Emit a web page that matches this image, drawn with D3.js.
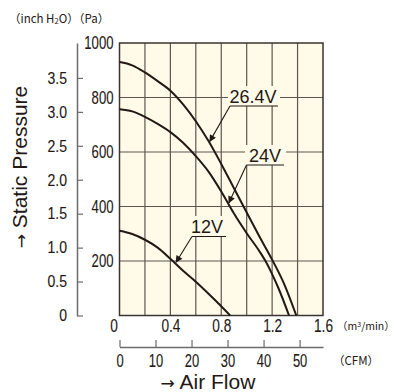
<!DOCTYPE html>
<html><head><meta charset="utf-8">
<script src="https://cdn.jsdelivr.net/npm/d3@7"></script>
<style>
html,body{margin:0;padding:0;background:#fff;}
svg{display:block;}
</style></head>
<body>
<svg id="chart" width="394" height="392"></svg>
<script>
// ---- data (flow in m³/min, static pressure in Pa) ----
const flow264 = [0, 0.1, 0.2, 0.3, 0.4, 0.5, 0.6, 0.7, 0.8, 0.9, 1.0, 1.1, 1.2, 1.3, 1.39];
const pres264 = [930, 918, 892, 860, 825, 775, 713, 640, 556, 467, 378, 290, 205, 110, 0];
const flow24 = [0, 0.1, 0.2, 0.3, 0.4, 0.5, 0.6, 0.7, 0.8, 0.9, 1.0, 1.1, 1.15, 1.2, 1.25, 1.333];
const pres24 = [757, 749, 729, 703, 673, 634, 585, 528, 455, 374, 302, 236, 198, 152, 100, 0];
const flow12 = [0, 0.1, 0.2, 0.3, 0.4, 0.5, 0.6, 0.7, 0.8, 0.87];
const pres12 = [311, 299, 278, 249, 208, 164, 124, 80, 34, 0];
const seriesNames = ["26.4V", "24V", "12V"];

const paTicks = [200, 400, 600, 800, 1000];
const paTickLabels = ["200", "400", "600", "800", "1000"];
const inchTicks = [0, 0.5, 1.0, 1.5, 2.0, 2.5, 3.0, 3.5];
const inchTickLabels = ["0", "0.5", "1.0", "1.5", "2.0", "2.5", "3.0", "3.5"];
const m3Ticks = [0, 0.4, 0.8, 1.2, 1.6];
const m3TickLabels = ["0", "0.4", "0.8", "1.2", "1.6"];
const cfmTicks = [0, 10, 20, 30, 40, 50];
const cfmTickLabels = ["0", "10", "20", "30", "40", "50"];
const gridFlow = [0.2, 0.4, 0.6, 0.8, 1.0, 1.2, 1.4];
const gridPa = [200, 400, 600, 800];

const PA_PER_INCH = 249.09;
const CFM_PER_M3 = 35.3147;

// ---- layout ----
const L = 119.5, R = 323, T = 43, B = 315.5;
const ink = "#231815";
const sans = '"Liberation Sans", Arial, sans-serif';

const svg = d3.select("#chart");
const x = d3.scaleLinear().domain([0, 1.6]).range([L, R]);
const y = d3.scaleLinear().domain([0, 1000]).range([B, T]);
const yIn = d3.scaleLinear().domain([0, 1000 / PA_PER_INCH]).range([B, T]);
const xCfm = d3.scaleLinear().domain([0, 1.6 * CFM_PER_M3]).range([L, R]);

// condensed numerals via textLength
function condense(sel, digitW, size) {
  sel.attr("font-family", sans).attr("font-size", size).attr("fill", ink)
    .attr("stroke", ink).attr("stroke-width", 0.12)
    .each(function () {
      const s = this.textContent;
      let w = 0;
      for (const c of s) w += (c === ".") ? digitW * 0.5 : digitW;
      this.setAttribute("textLength", w);
      this.setAttribute("lengthAdjust", "spacingAndGlyphs");
    });
}

// plot background
svg.append("rect").attr("x", L).attr("y", T).attr("width", R - L).attr("height", B - T)
  .attr("fill", "#fffbe8");

// grid
const grid = svg.append("g").attr("stroke", "#5e5550").attr("stroke-width", 1.2);
grid.selectAll("line.v").data(gridFlow).join("line").attr("class", "v")
  .attr("x1", d => x(d)).attr("x2", d => x(d)).attr("y1", T).attr("y2", B);
grid.selectAll("line.h").data(gridPa).join("line").attr("class", "h")
  .attr("x1", L).attr("x2", R).attr("y1", d => y(d)).attr("y2", d => y(d));
svg.append("rect").attr("x", L).attr("y", T).attr("width", R - L).attr("height", B - T)
  .attr("fill", "none").attr("stroke", "#3a3330").attr("stroke-width", 1.5);

// curves
const line = d3.line().x(d => x(d[0])).y(d => y(d[1])).curve(d3.curveMonotoneX);
const series = [
  {name: seriesNames[0], q: flow264, p: pres264},
  {name: seriesNames[1], q: flow24, p: pres24},
  {name: seriesNames[2], q: flow12, p: pres12}
];
svg.append("g").selectAll("path").data(series).join("path")
  .attr("d", s => line(s.q.map((q, i) => [q, s.p[i]])))
  .attr("fill", "none").attr("stroke", ink).attr("stroke-width", 2);

// annotations
function interp(s, q) {
  for (let i = 1; i < s.q.length; i++) {
    if (q <= s.q[i]) {
      const t = (q - s.q[i - 1]) / (s.q[i] - s.q[i - 1]);
      return s.p[i - 1] + t * (s.p[i] - s.p[i - 1]);
    }
  }
  return 0;
}
const notes = [
  {s: series[0], qTip: 0.71, cx: 253, cy: 97, ul: [230, 278], uy: 106, bg: [228, 86, 52, 20]},
  {s: series[1], qTip: 0.86, cx: 265, cy: 156, ul: [246.5, 284], uy: 165, bg: [245, 145, 41, 20]},
  {s: series[2], qTip: 0.445, cx: 207, cy: 227, ul: [192, 226], uy: 236.5, bg: [190, 216, 38, 20]}
];
svg.append("defs").append("marker").attr("id", "ah").attr("viewBox", "0 0 10 10")
  .attr("refX", 9).attr("refY", 5).attr("markerWidth", 9).attr("markerHeight", 7)
  .attr("markerUnits", "userSpaceOnUse").attr("orient", "auto")
  .append("path").attr("d", "M0,0 L10,5 L0,10 z").attr("fill", ink);
const ng = svg.append("g");
notes.forEach(n => {
  ng.append("rect").attr("x", n.bg[0]).attr("y", n.bg[1]).attr("width", n.bg[2]).attr("height", n.bg[3])
    .attr("fill", "#fffbe8");
  ng.append("text").attr("x", n.cx).attr("y", n.cy).attr("dy", "0.36em")
    .attr("text-anchor", "middle").attr("font-family", sans).attr("font-size", 18)
    .attr("fill", ink).text(n.s.name);
  ng.append("line").attr("x1", n.ul[0]).attr("x2", n.ul[1]).attr("y1", n.uy).attr("y2", n.uy)
    .attr("stroke", ink).attr("stroke-width", 1.2);
  const tx = x(n.qTip), ty = y(interp(n.s, n.qTip)) - 2;
  ng.append("line").attr("x1", n.ul[0]).attr("y1", n.uy).attr("x2", tx).attr("y2", ty)
    .attr("stroke", ink).attr("stroke-width", 1.1).attr("marker-end", "url(#ah)");
});

// Pa axis (left of plot)
const paAxis = svg.append("g").attr("transform", `translate(${L},0)`)
  .call(d3.axisLeft(y).tickValues(paTicks).tickFormat((d, i) => paTickLabels[i]).tickSize(0).tickPadding(6));
paAxis.select(".domain").remove();
condense(paAxis.selectAll("text"), 7.3, 18.5);

// inch H2O axis
const inAxis = svg.append("g").attr("transform", "translate(77,0)")
  .call(d3.axisLeft(yIn).tickValues(inchTicks).tickFormat((d, i) => inchTickLabels[i])
    .tickSizeInner(-6).tickSizeOuter(0).tickPadding(10));
inAxis.select(".domain").attr("stroke", "#6b6b6b").attr("stroke-width", 1.5);
inAxis.selectAll(".tick line").attr("stroke", "#6b6b6b").attr("stroke-width", 1.2);
condense(inAxis.selectAll("text"), 7.8, 16.5);

// m3/min axis labels
const m3Axis = svg.append("g").attr("transform", `translate(0,${B})`)
  .call(d3.axisBottom(x).tickValues(m3Ticks).tickFormat((d, i) => m3TickLabels[i]).tickSize(0).tickPadding(4));
m3Axis.select(".domain").remove();
condense(m3Axis.selectAll("text"), 7.6, 18);
m3Axis.selectAll("text").attr("dx", d => d === 0 ? -6 : 0);

// CFM axis
const cfmAxis = svg.append("g").attr("transform", "translate(0,347)")
  .call(d3.axisBottom(xCfm).tickValues(cfmTicks).tickFormat((d, i) => cfmTickLabels[i])
    .tickSizeInner(-7).tickSizeOuter(0).tickPadding(7));
cfmAxis.select(".domain").attr("stroke", "#6b6b6b").attr("stroke-width", 1.5);
cfmAxis.selectAll(".tick line").attr("stroke", "#6b6b6b").attr("stroke-width", 1.2);
condense(cfmAxis.selectAll("text"), 7.2, 18);

// unit labels
const unitFont = '"Noto Sans CJK JP", "Noto Sans", sans-serif';
const u1 = svg.append("text").attr("x", 9).attr("y", 23).attr("font-family", unitFont)
  .attr("font-size", 11.5).attr("fill", ink);
u1.append("tspan").text("（inch H");
u1.append("tspan").attr("font-size", 7.5).attr("dy", 1).text("2");
u1.append("tspan").attr("dy", -1).text("O）（Pa）");
const u2 = svg.append("text").attr("x", 337).attr("y", 330).attr("font-family", unitFont)
  .attr("font-size", 10.5).attr("fill", ink);
u2.append("tspan").text("（m");
u2.append("tspan").attr("font-size", 7).attr("dy", -3).text("3");
u2.append("tspan").attr("dy", 3).text("/min）");
svg.append("text").attr("x", 333).attr("y", 365).attr("font-family", unitFont)
  .attr("font-size", 11.5).attr("fill", ink).text("（CFM）");

// axis titles
const arrowFont = '"DejaVu Sans", sans-serif';
const t1 = svg.append("text").attr("transform", "translate(27,167) rotate(-90)")
  .attr("text-anchor", "middle").attr("font-family", sans).attr("font-size", 21)
  .attr("fill", ink);
t1.append("tspan").attr("font-family", arrowFont).attr("font-size", 17).text("→");
t1.append("tspan").text(" Static Pressure");
const t2 = svg.append("text").attr("x", 208).attr("y", 389)
  .attr("text-anchor", "middle").attr("font-family", sans).attr("font-size", 21)
  .attr("fill", ink);
t2.append("tspan").attr("font-family", arrowFont).attr("font-size", 17).text("→");
t2.append("tspan").text(" Air Flow");
</script>
</body></html>
